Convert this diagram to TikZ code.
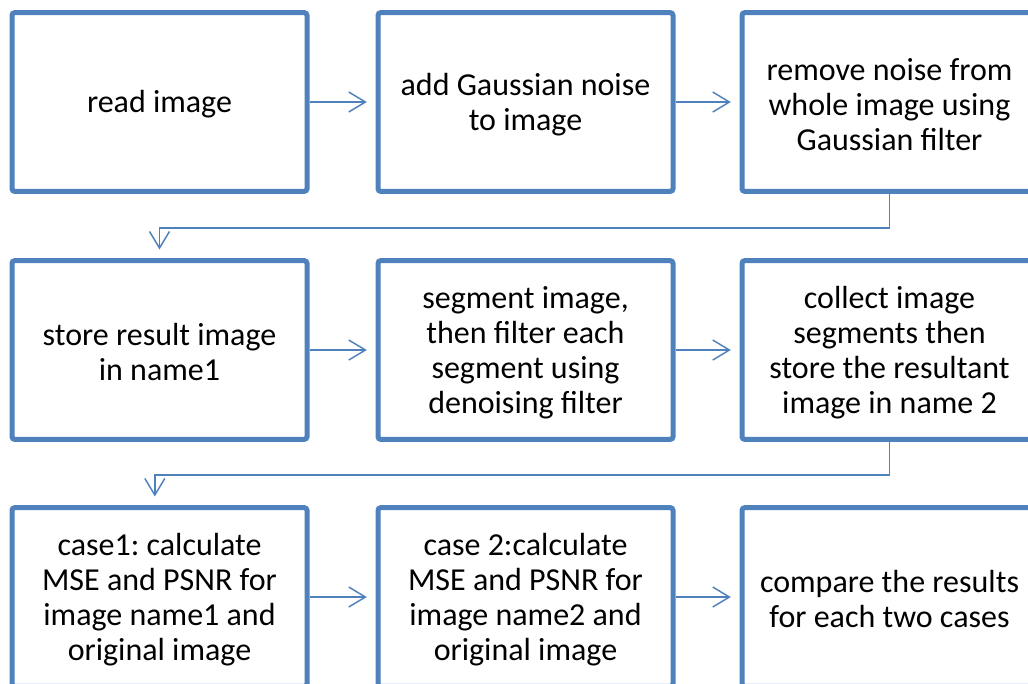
\documentclass[tikz,border=0pt]{standalone}
\usepackage{fontspec}
\setmainfont{Carlito}
\usetikzlibrary{arrows.meta}
\definecolor{obl}{HTML}{4F81BD}
\newcommand\toppad{\raisebox{5pt}{\vphantom{Ag}}}
\begin{document}
\begin{tikzpicture}[x=0.75pt,y=-0.75pt,
  boxn/.style={draw=obl, line width=3.75pt, rounded corners=2pt, fill=white,
    minimum width=221.25pt, minimum height=134pt, inner sep=0pt,
    text width=215pt, align=flush center, text=black,
    font=\fontsize{24}{26.25}\selectfont\frenchspacing,
    execute at begin node=\toppad},
  conn/.style={draw=obl, line width=1.1pt,
    -{Straight Barb[length=12.5pt,width=15pt,line width=1.1pt]}, shorten >=6.5pt}]
\useasboundingbox (0,0) rectangle (1028,683);
\clip (0,0) rectangle (1028,683);
\node[boxn] (b1) at (159.5,102) {read image};
\node[boxn] (b2) at (525.5,102) {add Gaussian noise\\to image};
\node[boxn] (b3) at (889.5,102) {remove noise from\\whole image using\\Gaussian filter};
\node[boxn] (b4) at (159.5,350) {store result image\\in name1};
\node[boxn] (b5) at (525.5,350) {segment image,\\then filter each\\segment using\\denoising filter};
\node[boxn] (b6) at (889.5,350) {collect image\\segments then\\store the resultant\\image in name 2};
\node[boxn] (b7) at (159.5,597) {case1: calculate\\MSE and PSNR for\\image name1 and\\original image};
\node[boxn] (b8) at (525.5,597) {case 2:calculate\\MSE and PSNR for\\image name2 and\\original image};
\node[boxn] (b9) at (889.5,597) {compare the results\\for each two cases};
\draw[conn] (b1) -- (b2);
\draw[conn] (b2) -- (b3);
\draw[conn] (b4) -- (b5);
\draw[conn] (b5) -- (b6);
\draw[conn] (b7) -- (b8);
\draw[conn] (b8) -- (b9);
\draw[conn] (b3.south) -- ++(0,34) -| (b4.north);
\draw[conn] (b6.south) -- ++(0,33) -| ([xshift=-3.5pt]b7.north);
\end{tikzpicture}
\end{document}
